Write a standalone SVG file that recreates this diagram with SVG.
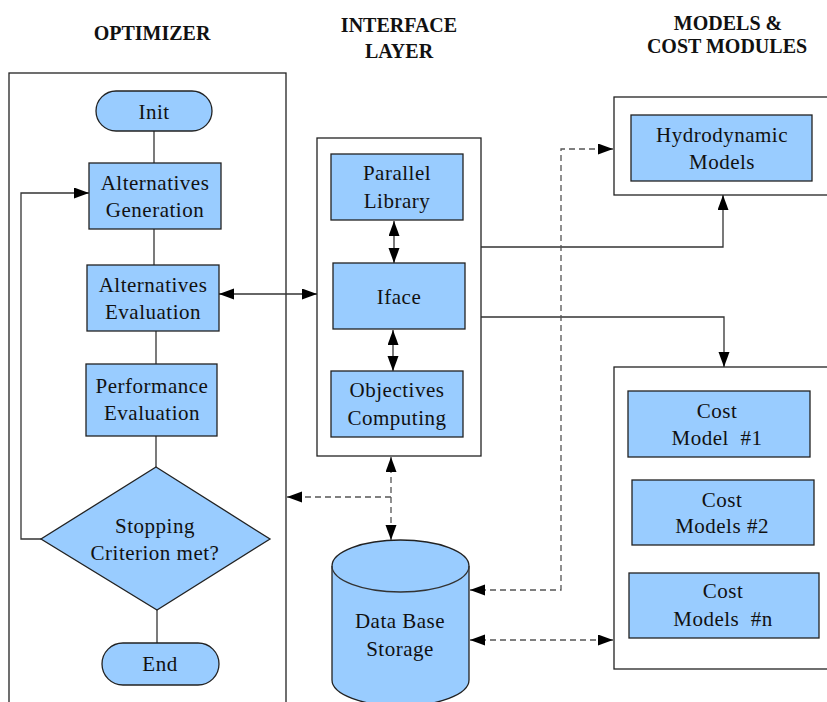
<svg xmlns="http://www.w3.org/2000/svg" width="827" height="702" viewBox="0 0 827 702" font-family="'Liberation Serif', 'DejaVu Serif', serif">
<defs>
<marker id="ah" markerUnits="userSpaceOnUse" markerWidth="16" markerHeight="12" refX="15" refY="5.5" orient="auto-start-reverse" viewBox="0 0 16 12"><path d="M0,0 L15,5.5 L0,11 Z" fill="#000"/></marker>
<style>
.box{fill:#99ccff;stroke:#222;stroke-width:1.3}
.cont{fill:#fff;stroke:#222;stroke-width:1.3}
.t{font-family:'Liberation Serif','DejaVu Serif',serif;font-size:21px;fill:#111;text-anchor:middle;letter-spacing:0.5px;white-space:pre}
.h{font-family:'Liberation Serif','DejaVu Serif',serif;font-size:20px;font-weight:bold;fill:#111;text-anchor:middle}
.ln{fill:none;stroke:#333;stroke-width:1.3}
.ds{fill:none;stroke:#555;stroke-width:1.3;stroke-dasharray:6,4}
</style>
</defs>
<rect width="827" height="702" fill="#fff"/>
<g id="headers">
<text class="h" x="152" y="40">OPTIMIZER</text>
<text class="h" x="399" y="32">INTERFACE</text>
<text class="h" x="399" y="58">LAYER</text>
<text class="h" x="728" y="30">MODELS &amp;</text>
<text class="h" x="727" y="53">COST MODULES</text>
</g>
<g id="optimizer-container"><rect class="cont" x="9" y="73" width="277" height="660"/></g>
<g id="interface-container"><rect class="cont" x="317" y="138" width="164" height="318"/></g>
<g id="hydro-container"><rect class="cont" x="614" y="97" width="230" height="98"/></g>
<g id="cost-container"><rect class="cont" x="614" y="367" width="230" height="302"/></g>
<g id="connectors">
<line class="ln" x1="154" y1="131" x2="154" y2="163"/>
<line class="ln" x1="154" y1="229" x2="154" y2="265"/>
<line class="ln" x1="156" y1="331" x2="156" y2="364"/>
<line class="ln" x1="156" y1="436" x2="156" y2="467"/>
<line class="ln" x1="157" y1="610" x2="157" y2="643"/>
<path class="ln" d="M41,539 H21 V193 H89" marker-end="url(#ah)"/>
<line class="ln" x1="219" y1="294" x2="317" y2="294" marker-start="url(#ah)" marker-end="url(#ah)"/>
<line class="ln" x1="394" y1="221" x2="394" y2="263" marker-start="url(#ah)" marker-end="url(#ah)"/>
<line class="ln" x1="393" y1="330" x2="393" y2="371" marker-start="url(#ah)" marker-end="url(#ah)"/>
<path class="ln" d="M481,247 H723 V195" marker-end="url(#ah)"/>
<path class="ln" d="M481,317 H724 V367" marker-end="url(#ah)"/>
<path class="ds" d="M470,590 H561 V149 H613" marker-start="url(#ah)" marker-end="url(#ah)"/>
<line class="ds" x1="470" y1="640" x2="613" y2="640" marker-start="url(#ah)" marker-end="url(#ah)"/>
<line class="ds" x1="391" y1="457" x2="391" y2="540" marker-start="url(#ah)" marker-end="url(#ah)"/>
<line class="ds" x1="391" y1="497" x2="287" y2="497" marker-end="url(#ah)"/>
</g>
<g id="init"><rect class="box" x="96" y="91" width="116" height="40" rx="20"/><text class="t" x="154" y="119">Init</text></g>
<g id="alt-gen"><rect class="box" x="89" y="163" width="132" height="66"/><text class="t" x="155" y="190">Alternatives</text><text class="t" x="155" y="217">Generation</text></g>
<g id="alt-eval"><rect class="box" x="87" y="265" width="132" height="66"/><text class="t" x="153" y="292">Alternatives</text><text class="t" x="153" y="319">Evaluation</text></g>
<g id="perf-eval"><rect class="box" x="86" y="364" width="131" height="72"/><text class="t" x="152" y="393">Performance</text><text class="t" x="152" y="420">Evaluation</text></g>
<g id="stopping"><polygon class="box" points="156,467 270,539 157,610 41,539"/><text class="t" x="155" y="533">Stopping</text><text class="t" x="155" y="560">Criterion met?</text></g>
<g id="end"><rect class="box" x="102" y="643" width="117" height="42" rx="21"/><text class="t" x="160" y="671">End</text></g>
<g id="parallel-library"><rect class="box" x="331" y="154" width="132" height="66"/><text class="t" x="397" y="180">Parallel</text><text class="t" x="397" y="208">Library</text></g>
<g id="iface"><rect class="box" x="333" y="263" width="132" height="66"/><text class="t" x="399" y="304">Iface</text></g>
<g id="objectives"><rect class="box" x="331" y="371" width="132" height="66"/><text class="t" x="397" y="397">Objectives</text><text class="t" x="397" y="425">Computing</text></g>
<g id="database"><path class="box" d="M332,566 V680 A68.5,26 0 0 0 469,680 V566 A68.5,26 0 0 0 332,566 Z"/><path class="ln" d="M332,566 A68.5,26 0 0 0 469,566"/><text class="t" x="400" y="628">Data Base</text><text class="t" x="400" y="656">Storage</text></g>
<g id="hydro"><rect class="box" x="631" y="115" width="181" height="66"/><text class="t" x="722" y="142">Hydrodynamic</text><text class="t" x="722" y="169">Models</text></g>
<g id="cost1"><rect class="box" x="628" y="391" width="182" height="66"/><text class="t" x="717" y="418">Cost</text><text class="t" x="717" y="445">Model  #1</text></g>
<g id="cost2"><rect class="box" x="632" y="480" width="182" height="65"/><text class="t" x="722" y="507">Cost</text><text class="t" x="722" y="533">Models #2</text></g>
<g id="costn"><rect class="box" x="629" y="573" width="190" height="65"/><text class="t" x="723" y="598">Cost</text><text class="t" x="723" y="626">Models  #n</text></g>
</svg>
